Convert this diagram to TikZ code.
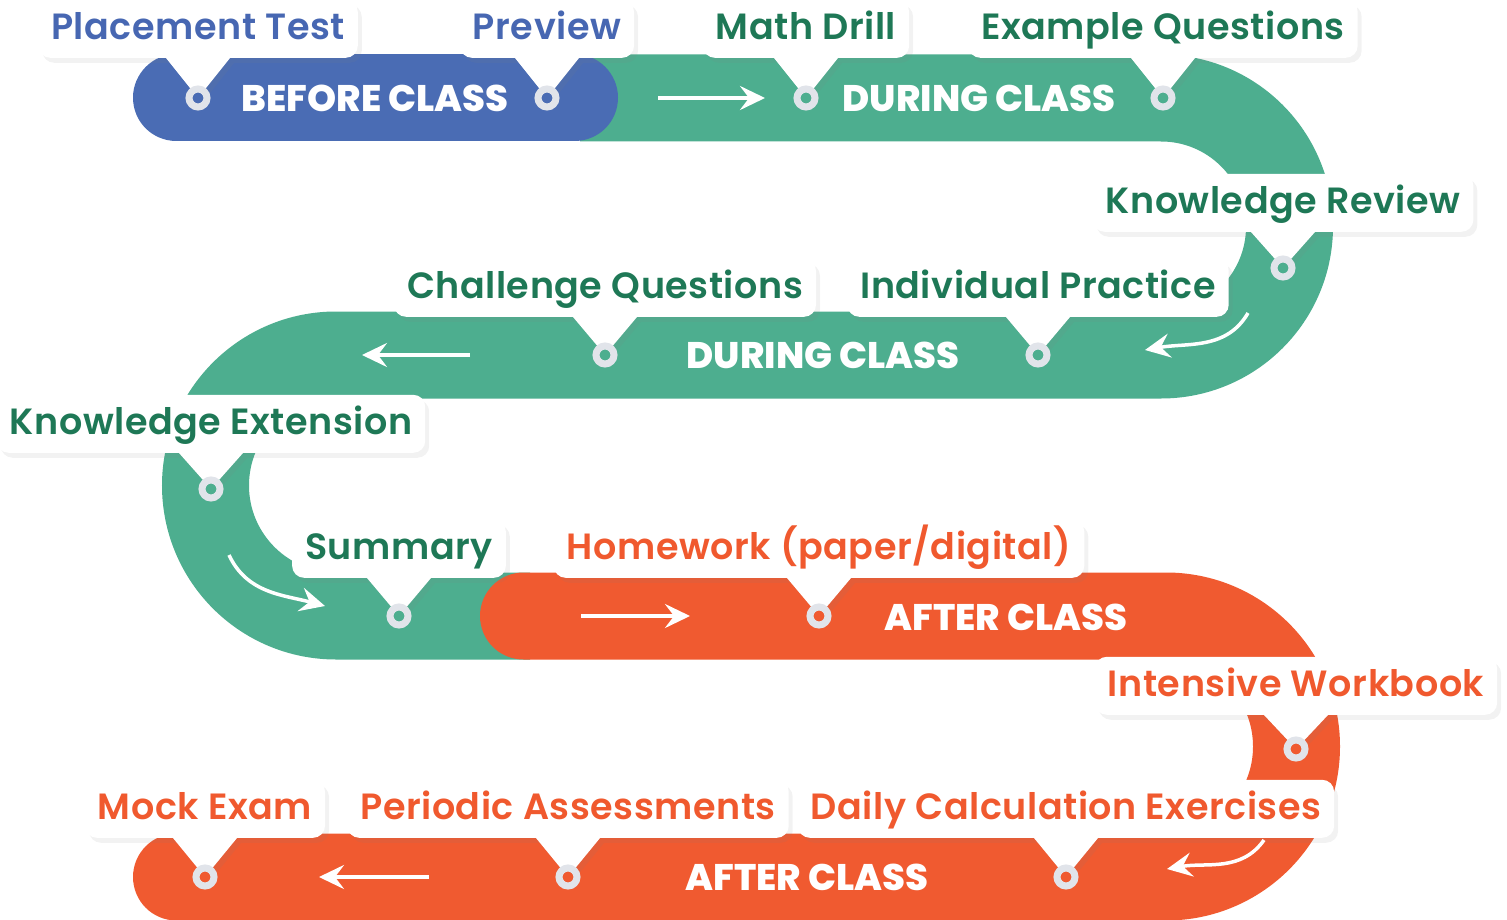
\documentclass[tikz,border=0pt]{standalone}
\usepackage{fontspec}
\setmainfont{Poppins}
\newfontfamily\lblfont{Poppins}[UprightFont={* SemiBold},LetterSpace=1.5]
\newfontfamily\bandfont{Poppins}[UprightFont={* ExtraBold}]
\usetikzlibrary{arrows.meta,shadows}

\definecolor{bandblue}{HTML}{4A6CB4}
\definecolor{bandgreen}{HTML}{4DAE8F}
\definecolor{bandorange}{HTML}{F05A30}
\definecolor{txtblue}{HTML}{4767B2}
\definecolor{txtgreen}{HTML}{1E7856}
\definecolor{txtorange}{HTML}{F0592E}
\definecolor{ringgray}{HTML}{E1E4EA}

\tikzset{
  band/.style={line width=87pt},
  softshadow/.style={drop shadow={shadow xshift=4pt,shadow yshift=-5pt,opacity=0.10}},
  tag/.style={fill=white,rounded corners=12pt,anchor=south,softshadow,
    font=\lblfont\fontsize{36.5}{40}\selectfont,
    text height=30pt,text depth=8pt,inner xsep=13pt,inner ysep=10pt},
  pin/.style={fill=white,softshadow},
  dot/.style={circle,draw=ringgray,line width=7pt,minimum size=18pt,inner sep=0pt},
  stage/.style={text=white,font=\bandfont\fontsize{37}{40}\selectfont},
  flow/.style={white,line width=3.5pt,-{Stealth[length=25pt,width=24pt,inset=9pt]}}
}

\begin{document}
\begin{tikzpicture}[x=1pt,y=1pt]
  \useasboundingbox (0,0) rectangle (1507,-920);

  % Track
  \draw[band,bandgreen] (580,-98) -- (1161,-98) arc (90:-90:128.5)
    -- (336,-355) arc (90:270:130.5) -- (530,-616);
  \draw[band,bandorange,line cap=round] (523.5,-616) -- (1166,-616)
    arc (90:-90:130.5) -- (176.5,-877);
  \draw[band,bandblue,line cap=round] (176.5,-98) -- (574.5,-98);

  % Stops
  \coordinate (s1) at (198,-98);
  \coordinate (s2) at (547,-98);
  \coordinate (s3) at (806,-98);
  \coordinate (s4) at (1163,-98);
  \coordinate (s5) at (1283,-268);
  \coordinate (s6) at (1038,-355);
  \coordinate (s7) at (605,-355);
  \coordinate (s8) at (211,-489);
  \coordinate (s9) at (399,-616);
  \coordinate (s10) at (819,-616);
  \coordinate (s11) at (1296,-749);
  \coordinate (s12) at (1066,-877);
  \coordinate (s13) at (568,-877);
  \coordinate (s14) at (205,-877);

  % Labels
  \node[tag,text=txtblue] (l1) at (s1 |- 0,-58) {Placement Test};
  \node[tag,text=txtblue] (l2) at (s2 |- 0,-58) {Preview};
  \node[tag,text=txtgreen] (l3) at (s3 |- 0,-58) {Math Drill};
  \node[tag,text=txtgreen] (l4) at (s4 |- 0,-58) {Example Questions};
  \node[tag,text=txtgreen] (l5) at (s5 |- 0,-232) {Knowledge Review};
  \node[tag,text=txtgreen] (l6) at (s6 |- 0,-317) {Individual Practice};
  \node[tag,text=txtgreen] (l7) at (s7 |- 0,-317) {Challenge Questions};
  \node[tag,text=txtgreen] (l8) at (s8 |- 0,-453) {Knowledge Extension};
  \node[tag,text=txtgreen] (l9) at (s9 |- 0,-578) {Summary};
  \node[tag,text=txtorange] (l10) at (s10 |- 0,-578) {Homework (paper/digital)};
  \node[tag,text=txtorange] (l11) at (s11 |- 0,-715) {Intensive Workbook};
  \node[tag,text=txtorange] (l12) at (s12 |- 0,-838) {Daily Calculation Exercises};
  \node[tag,text=txtorange] (l13) at (s13 |- 0,-838) {Periodic Assessments};
  \node[tag,text=txtorange] (l14) at (s14 |- 0,-838) {Mock Exam};

  % Pointers and rings
  \foreach \i/\c in {1/bandblue,2/bandblue,3/bandgreen,4/bandgreen,5/bandgreen,
      6/bandgreen,7/bandgreen,8/bandgreen,9/bandgreen,10/bandorange,
      11/bandorange,12/bandorange,13/bandorange,14/bandorange} {
    \fill[pin] ([xshift=-32pt]l\i.south) -- ([xshift=32pt]l\i.south) -- (s\i) -- cycle;
    \node[dot,fill=\c] (m\i) at (s\i) {};
  }

  % Stage names
  \node[stage] (b1) at (375,-98) {BEFORE CLASS};
  \node[stage] (b2) at (979,-98) {DURING CLASS};
  \node[stage] (b3) at (823,-355) {DURING CLASS};
  \node[stage] (b4) at (1006,-617) {AFTER CLASS};
  \node[stage] (b5) at (807,-877) {AFTER CLASS};

  % Direction arrows
  \coordinate (a1) at (658,-98);   \coordinate (e1) at (765,-98);
  \coordinate (a2) at (1248,-313); \coordinate (e2) at (1145,-350);
  \coordinate (a3) at (470,-355);  \coordinate (e3) at (362,-355);
  \coordinate (a4) at (229,-555);  \coordinate (e4) at (325,-606);
  \coordinate (a5) at (581,-616);  \coordinate (e5) at (690,-616);
  \coordinate (a6) at (1264,-840); \coordinate (e6) at (1167,-869);
  \coordinate (a7) at (429,-877);  \coordinate (e7) at (319,-877);
  \draw[flow] (a1) -- (e1);
  \draw[flow] (a2) to[out=-120,in=10] (e2);
  \draw[flow] (a3) -- (e3);
  \draw[flow] (a4) to[out=-65,in=165] (e4);
  \draw[flow] (a5) -- (e5);
  \draw[flow] (a6) to[out=-125,in=10] (e6);
  \draw[flow] (a7) -- (e7);
\end{tikzpicture}
\end{document}
